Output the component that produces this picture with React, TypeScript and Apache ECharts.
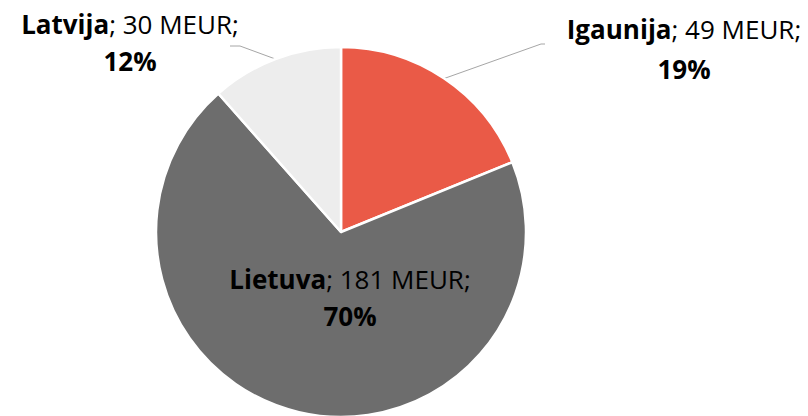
import React, { useEffect, useRef } from "react";
import * as echarts from "echarts";

const categories = ["Igaunija", "Lietuva", "Latvija"];
const values = [49, 181, 30];
const unit = "MEUR";
const colors = ["#EA5A47", "#6D6D6D", "#EDEDED"];

export default function App() {
  const ref = useRef<HTMLDivElement>(null);
  useEffect(() => {
    if (!ref.current) return;
    const chart = echarts.init(ref.current, null, { renderer: "svg" });
    const total = values.reduce((a, b) => a + b, 0);
    const font = "'Open Sans', 'Noto Sans', sans-serif";
    const fs = 26;
    const data = categories.map((name, i) => ({
      name,
      value: values[i],
      itemStyle: { color: colors[i] },
      label: {
        position: i === 1 ? "inside" : "outside",
        lineHeight: i === 0 ? 40 : 37,
      },
      labelLine: { show: i !== 1 },
    }));
    const targets: Record<number, { x: number; y: number; bend: [number, number]; end: [number, number] }> = {
      0: { x: 684, y: 49, bend: [541, 44], end: [545, 44] },
      1: { x: 350, y: 297, bend: [0, 0], end: [0, 0] },
      2: { x: 130, y: 42, bend: [240, 46], end: [230, 46] },
    };
    chart.setOption({
      animation: false,
      series: [
        {
          type: "pie",
          center: [341, 232],
          radius: 185,
          startAngle: 90,
          clockwise: true,
          data,
          itemStyle: { borderColor: "#ffffff", borderWidth: 2.5 },
          label: {
            show: true,
            fontFamily: font,
            fontSize: fs,
            color: "#000000",
            align: "center",
            formatter: (p: any) =>
              `{b|${p.name}}{n|; ${p.value} ${unit};}\n{b|${Math.round((p.value / total) * 100)}%}`,
            rich: {
              b: { fontWeight: "bold", fontFamily: font, fontSize: fs, color: "#000000" },
              n: { fontFamily: font, fontSize: fs, color: "#000000" },
            },
          },
          labelLine: {
            show: true,
            lineStyle: { color: "#A6A6A6", width: 1 },
          },
          labelLayout: (params: any) => {
            const t = targets[params.dataIndex];
            const res: any = { x: t.x, y: t.y, align: "center", verticalAlign: "middle" };
            if (params.dataIndex !== 1 && params.labelLinePoints) {
              res.labelLinePoints = [params.labelLinePoints[0], t.bend, t.end];
            }
            return res;
          },
        },
      ],
    });
    return () => chart.dispose();
  }, []);
  return (
    <div
      ref={ref}
      style={{ position: "fixed", left: 0, top: 0, width: 808, height: 416, background: "#fff" }}
    />
  );
}
